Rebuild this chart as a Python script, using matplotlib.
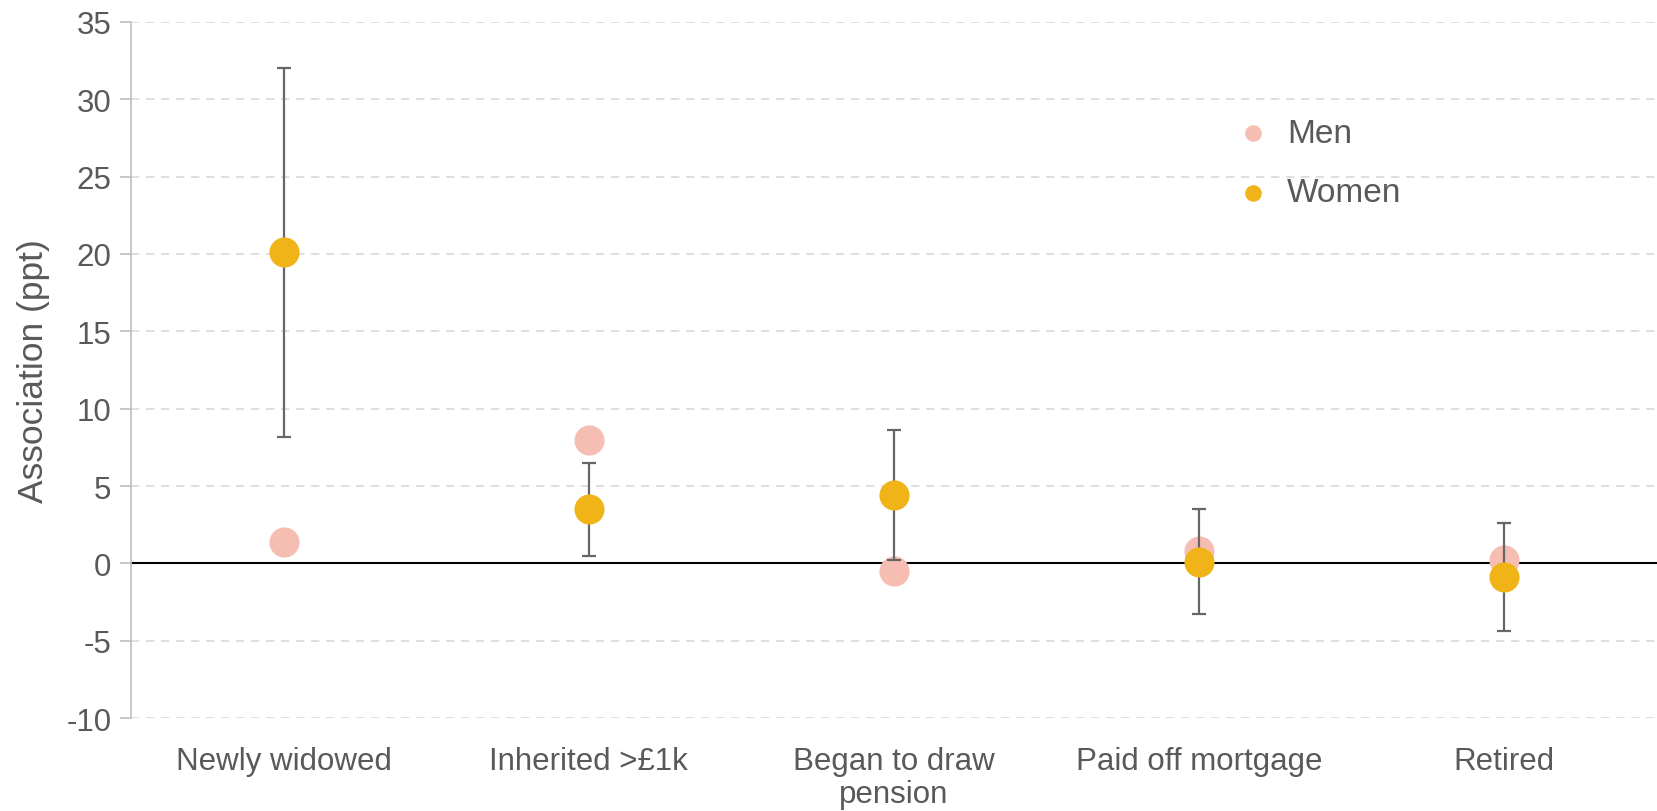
import numpy as np
import matplotlib.pyplot as plt

plt.rcParams['font.family'] = ['Liberation Sans', 'DejaVu Sans']
plt.rcParams['axes.unicode_minus'] = False

categories = ['Newly widowed', 'Inherited >£1k', 'Began to draw\npension', 'Paid off mortgage', 'Retired']
men = [1.4, 8.0, -0.5, 0.8, 0.2]
women = [20.1, 3.5, 4.4, 0.1, -0.9]
women_lo = [8.2, 0.5, 0.2, -3.3, -4.4]
women_hi = [32.0, 6.5, 8.6, 3.5, 2.6]

grey = '#595959'
c_men = '#F6BDB2'
c_women = '#F0B418'

fig = plt.figure(figsize=(16.57, 8.12), dpi=100)
ax = fig.add_axes([0.079, 0.1145, 0.921, 0.8572])

x = np.arange(len(categories))
women = np.array(women)
yerr = [women - np.array(women_lo), np.array(women_hi) - women]

ax.scatter(x, men, s=470, color=c_men, zorder=3, linewidths=0, label='Men')
ax.errorbar(x, women, yerr=yerr, fmt='none', ecolor='#666666', elinewidth=1.6,
            capsize=5, capthick=1.6, zorder=4)
ax.scatter(x, women, s=470, color=c_women, zorder=5, linewidths=0, label='Women')

ax.axhline(0, color='black', linewidth=1.5, zorder=2)
ax.set_xlim(-0.5, 4.5)
ax.set_ylim(-10, 35)
ax.set_yticks(np.arange(-10, 36, 5))
ax.yaxis.grid(True, linestyle=(0, (5, 4)), color='#D9D9D9', linewidth=1.2)
ax.set_axisbelow(True)

for s in ['top', 'right', 'bottom']:
    ax.spines[s].set_visible(False)
ax.spines['left'].set_color('#BFBFBF')
ax.spines['left'].set_linewidth(1.2)

ax.set_xticks(x)
ax.set_xticklabels(categories, fontsize=22.5, color=grey, linespacing=1.12)
ax.tick_params(axis='x', length=0, pad=20)
ax.tick_params(axis='y', labelsize=22.5, labelcolor=grey, color='#BFBFBF', length=8, width=1.2, pad=6)
ax.set_ylabel('Association (ppt)', fontsize=25.5, color=grey, labelpad=12)

leg = ax.legend(loc='upper left', bbox_to_anchor=(0.705, 0.905), frameon=False, fontsize=24,
                markerscale=0.55, labelspacing=0.85, handletextpad=0.5, handlelength=1.0)
for t in leg.get_texts():
    t.set_color(grey)

fig.savefig('out.png', dpi=100)
